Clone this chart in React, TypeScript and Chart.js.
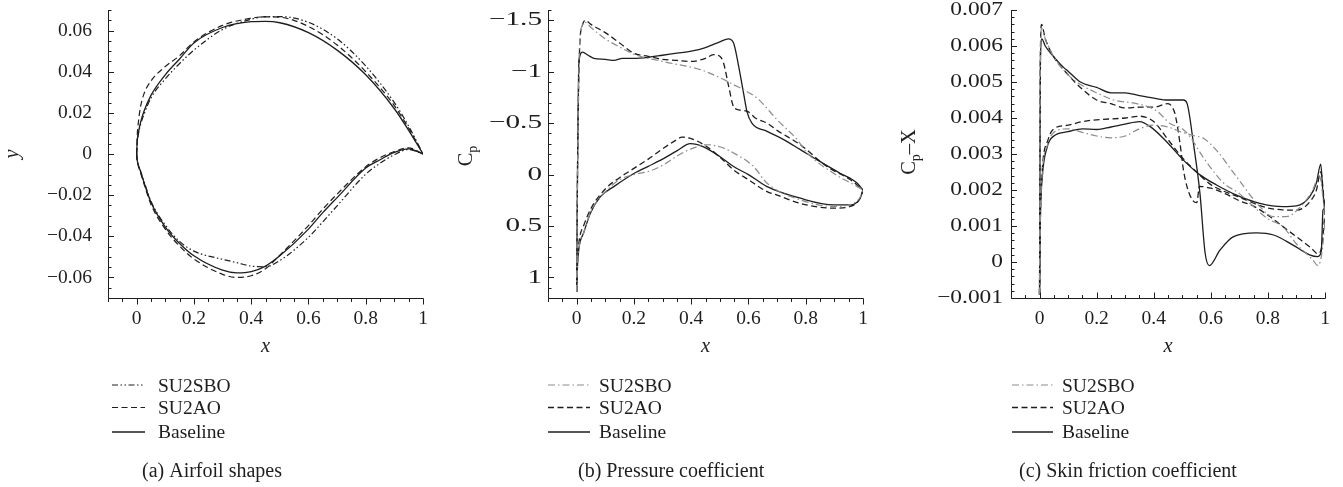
import React, { useEffect, useRef } from "react";
import { Chart, registerables } from "chart.js";

Chart.register(...registerables);

const SERIF = '"Liberation Serif", "Times New Roman", Times, serif';
const INK = "#1e1e1e";
const GRAY = "#8c8c8c";

const seriesLabels = ["SU2SBO", "SU2AO", "Baseline"];
const panelCaptions = ["(a) Airfoil shapes", "(b) Pressure coefficient", "(c) Skin friction coefficient"];

const xTickValues = [0, 0.2, 0.4, 0.6, 0.8, 1];
const shapeTickValues = [-0.06, -0.04, -0.02, 0, 0.02, 0.04, 0.06];
const cpTickValues = [-1.5, -1, -0.5, 0, 0.5, 1];
const cfTickValues = [-0.001, 0, 0.001, 0.002, 0.003, 0.004, 0.005, 0.006, 0.007];

// (a) Airfoil shapes
const shapeUpperX = [0, 0.002, 0.005, 0.013, 0.025, 0.05, 0.1, 0.15, 0.2, 0.3, 0.4, 0.45, 0.5, 0.6, 0.7, 0.8, 0.9, 0.95, 1];
const shapeSboUpper = [0, 0.0055, 0.0088, 0.014, 0.019, 0.0272, 0.0365, 0.044, 0.0505, 0.0605, 0.0655, 0.0668, 0.0668, 0.064, 0.056, 0.0428, 0.025, 0.0135, 0];
const shapeAoUpper = [0, 0.0088, 0.014, 0.0225, 0.029, 0.0355, 0.0425, 0.0478, 0.0545, 0.0625, 0.066, 0.0667, 0.0665, 0.062, 0.053, 0.04, 0.0235, 0.0125, 0];
const shapeBaseUpper = [0, 0.006, 0.0093, 0.015, 0.0205, 0.0285, 0.0385, 0.0462, 0.054, 0.0615, 0.0643, 0.0645, 0.0638, 0.059, 0.0505, 0.0385, 0.022, 0.0115, 0];
const shapeLowerX = [0, 0.002, 0.005, 0.013, 0.025, 0.05, 0.1, 0.15, 0.2, 0.3, 0.35, 0.4, 0.45, 0.5, 0.6, 0.65, 0.7, 0.8, 0.85, 0.9, 0.95, 1];
const shapeSboLower = [0, -0.003, -0.005, -0.008, -0.013, -0.023, -0.0345, -0.0425, -0.0472, -0.0512, -0.0528, -0.0545, -0.0548, -0.0518, -0.0405, -0.033, -0.0252, -0.0098, -0.0045, -0.0003, 0.0022, 0];
const shapeAoLower = [0, -0.0032, -0.0053, -0.0088, -0.0142, -0.0245, -0.0365, -0.0448, -0.051, -0.0585, -0.06, -0.0592, -0.0558, -0.0492, -0.0348, -0.0268, -0.0195, -0.0062, -0.0018, 0.0012, 0.003, 0];
const shapeBaseLower = [0, -0.003, -0.005, -0.0082, -0.0135, -0.0235, -0.0355, -0.0435, -0.0495, -0.0565, -0.0578, -0.0572, -0.0545, -0.0495, -0.0365, -0.0285, -0.0212, -0.0068, -0.0028, 0.0008, 0.0025, 0];

// (b) Pressure coefficient
const cpSboUpperX = [0, 0.003, 0.01, 0.02, 0.03, 0.05, 0.1, 0.15, 0.2, 0.3, 0.432, 0.502, 0.548, 0.583, 0.63, 0.7, 0.77, 0.805, 0.897, 0.98, 1];
const cpSboUpper = [1.14, 0.0, -1.25, -1.45, -1.48, -1.43, -1.32, -1.24, -1.17, -1.1, -1.02, -0.94, -0.874, -0.825, -0.744, -0.533, -0.34, -0.21, -0.013, 0.117, 0.15];
const cpSboLowerX = [0, 0.002, 0.005, 0.01, 0.024, 0.05, 0.1, 0.15, 0.2, 0.25, 0.3, 0.35, 0.4, 0.455, 0.5, 0.548, 0.618, 0.665, 0.781, 0.897, 0.966, 0.99, 1];
const cpSboLower = [1.14, 0.95, 0.8, 0.68, 0.57, 0.36, 0.17, 0.05, 0.0, -0.03, -0.09, -0.18, -0.25, -0.29, -0.27, -0.21, -0.078, 0.084, 0.246, 0.31, 0.28, 0.22, 0.15];
const cpAoUpperX = [0, 0.003, 0.01, 0.02, 0.03, 0.05, 0.1, 0.15, 0.2, 0.25, 0.3, 0.35, 0.4, 0.45, 0.478, 0.5, 0.513, 0.531, 0.548, 0.566, 0.6, 0.624, 0.665, 0.7, 0.781, 0.874, 0.956, 1];
const cpAoUpper = [1.14, 0.0, -1.2, -1.45, -1.5, -1.46, -1.38, -1.28, -1.18, -1.15, -1.12, -1.11, -1.1, -1.13, -1.166, -1.15, -1.085, -0.857, -0.66, -0.63, -0.61, -0.55, -0.5, -0.43, -0.29, -0.078, 0.05, 0.15];
const cpAoLowerX = [0, 0.002, 0.005, 0.01, 0.024, 0.05, 0.1, 0.15, 0.2, 0.25, 0.3, 0.35, 0.368, 0.4, 0.45, 0.5, 0.548, 0.6, 0.665, 0.7, 0.781, 0.897, 0.955, 0.99, 1];
const cpAoLower = [1.14, 0.9, 0.75, 0.62, 0.5, 0.33, 0.14, 0.03, -0.06, -0.15, -0.25, -0.34, -0.364, -0.35, -0.28, -0.17, -0.046, 0.05, 0.166, 0.2, 0.28, 0.327, 0.31, 0.23, 0.15];
const cpBaseUpperX = [0, 0.003, 0.008, 0.02, 0.04, 0.06, 0.1, 0.13, 0.16, 0.2, 0.25, 0.3, 0.35, 0.4, 0.45, 0.5, 0.53, 0.548, 0.566, 0.583, 0.595, 0.612, 0.665, 0.723, 0.78, 0.84, 0.92, 0.98, 1];
const cpBaseUpper = [1.14, 0.0, -1.1, -1.19, -1.16, -1.13, -1.12, -1.11, -1.13, -1.13, -1.14, -1.16, -1.18, -1.2, -1.235, -1.29, -1.32, -1.28, -1.05, -0.79, -0.61, -0.5, -0.42, -0.34, -0.245, -0.143, -0.013, 0.084, 0.15];
const cpBaseLowerX = [0, 0.002, 0.005, 0.01, 0.024, 0.048, 0.083, 0.13, 0.2, 0.25, 0.3, 0.35, 0.397, 0.443, 0.5, 0.548, 0.6, 0.665, 0.781, 0.897, 0.955, 0.99, 1];
const cpBaseLower = [1.14, 0.95, 0.8, 0.68, 0.57, 0.376, 0.214, 0.117, -0.01, -0.08, -0.15, -0.23, -0.3, -0.27, -0.175, -0.078, 0.0, 0.117, 0.23, 0.295, 0.295, 0.23, 0.15];

// (c) Skin friction coefficient
const cfSboUpperX = [0, 0.003, 0.007, 0.02, 0.05, 0.1, 0.15, 0.2, 0.26, 0.34, 0.41, 0.457, 0.5, 0.527, 0.574, 0.644, 0.7, 0.737, 0.8, 0.853, 0.9, 0.922, 0.957, 0.975, 0.99, 1];
const cfSboUpper = [-0.0009, 0.0056, 0.0065, 0.0062, 0.0057, 0.0052, 0.0049, 0.0047, 0.0045, 0.0044, 0.0042, 0.00385, 0.0037, 0.00348, 0.0029, 0.0022, 0.0019, 0.00163, 0.0012, 0.00098, 0.0005, 0.00033, 0.00006, -0.0001, 0.0003, 0.0012];
const cfSboLowerX = [0, 0.003, 0.009, 0.03, 0.05, 0.1, 0.15, 0.2, 0.25, 0.3, 0.35, 0.4, 0.45, 0.5, 0.545, 0.574, 0.62, 0.69, 0.772, 0.818, 0.865, 0.91, 0.957, 0.98, 1];
const cfSboLower = [-0.0009, 0.0012, 0.0024, 0.0033, 0.0036, 0.0037, 0.0036, 0.0035, 0.00345, 0.0035, 0.0037, 0.0038, 0.00375, 0.0036, 0.0035, 0.00344, 0.0031, 0.00237, 0.00154, 0.00126, 0.00126, 0.0015, 0.002, 0.0024, 0.0013];
const cfAoUpperX = [0, 0.003, 0.007, 0.02, 0.05, 0.1, 0.15, 0.2, 0.25, 0.3, 0.35, 0.4, 0.45, 0.465, 0.475, 0.492, 0.504, 0.52, 0.538, 0.551, 0.56, 0.6, 0.65, 0.7, 0.75, 0.8, 0.85, 0.9, 0.95, 0.975, 0.99, 1];
const cfAoUpper = [-0.0009, 0.0058, 0.0066, 0.0062, 0.0057, 0.0052, 0.0048, 0.0045, 0.0044, 0.00428, 0.0043, 0.0043, 0.0044, 0.0043, 0.0041, 0.0033, 0.00256, 0.002, 0.0017, 0.00165, 0.0021, 0.00205, 0.0019, 0.0017, 0.00155, 0.0013, 0.001, 0.0007, 0.0004, 0.00023, 0.0005, 0.0014];
const cfAoLowerX = [0, 0.003, 0.009, 0.03, 0.05, 0.1, 0.15, 0.2, 0.3, 0.35, 0.4, 0.45, 0.5, 0.55, 0.6, 0.7, 0.8, 0.85, 0.9, 0.95, 0.97, 0.985, 1];
const cfAoLower = [-0.0009, 0.0013, 0.0025, 0.0034, 0.0037, 0.0038, 0.0039, 0.00395, 0.004, 0.00405, 0.0039, 0.0034, 0.0029, 0.0025, 0.00215, 0.0018, 0.0015, 0.00145, 0.00144, 0.0017, 0.002, 0.0025, 0.0014];
const cfBaseUpperX = [0, 0.003, 0.008, 0.02, 0.05, 0.085, 0.1, 0.143, 0.2, 0.25, 0.3, 0.35, 0.4, 0.45, 0.504, 0.517, 0.539, 0.562, 0.58, 0.595, 0.632, 0.678, 0.76, 0.82, 0.888, 0.946, 0.975, 0.987, 0.993, 1];
const cfBaseUpper = [-0.0009, 0.0055, 0.0062, 0.006, 0.0057, 0.0054, 0.0053, 0.005, 0.00485, 0.0047, 0.0047, 0.00462, 0.00455, 0.0045, 0.0045, 0.0044, 0.0033, 0.0019, 0.00025, -0.0001, 0.00033, 0.0007, 0.00081, 0.00075, 0.00047, 0.0002, 0.00015, 0.0003, 0.00144, 0.0015];
const cfBaseLowerX = [0, 0.003, 0.009, 0.027, 0.05, 0.1, 0.15, 0.2, 0.25, 0.3, 0.35, 0.388, 0.45, 0.504, 0.562, 0.62, 0.69, 0.772, 0.853, 0.9, 0.946, 0.97, 0.985, 0.993, 1];
const cfBaseLower = [-0.0009, 0.0012, 0.0023, 0.0032, 0.0035, 0.00362, 0.0037, 0.00368, 0.00375, 0.00383, 0.0039, 0.00376, 0.0033, 0.00283, 0.00242, 0.00214, 0.00186, 0.00163, 0.00154, 0.00156, 0.00181, 0.0022, 0.00272, 0.0019, 0.0015];

type Curve = { x: number[]; y: number[] };
type Series = { label: string; color: string; dash: number[]; width: number; curves: Curve[] };
type TitlePart = { t: string; sub?: boolean; italic?: boolean };
type Panel = {
  left: number;
  width: number;
  area: { left: number; right: number; top: number; bottom: number };
  xMin: number; xMax: number; yMin: number; yMax: number; reverse: boolean;
  yTicks: number[]; yMinor: number; xMinor: number; xTickOut: boolean;
  yLabelPad: number; yLabelStretch: number;
  yTitle: TitlePart[]; yTitleBase: number; yTitleCenter: number;
  legend: { x0: number; x1: number; tx: number };
  captionX: number; caption: string;
  series: Series[];
};

const H = 487;
const Y_AXIS_W = 70;
const X_AXIS_H = 40;
const TICK_FONT_SIZE = 19.5;

const fmt = (v: number) => (v < 0 ? "\u2212" + String(-v) : String(v));

const dashDotDot = [6, 2.5, 1.5, 2.5, 1.5, 2.5];
const dashed = [6, 3.5];
const dashDot = [7, 3, 1.5, 3];

const panels: Panel[] = [
  {
    left: 0, width: 440,
    area: { left: 108, right: 423, top: 10, bottom: 298 },
    xMin: -0.1, xMax: 1, yMin: -0.07, yMax: 0.07, reverse: false,
    yTicks: shapeTickValues, yMinor: 0.005, xMinor: 0.05, xTickOut: true,
    yLabelPad: 16, yLabelStretch: 1,
    yTitle: [{ t: "y", italic: true }], yTitleBase: 18, yTitleCenter: 154,
    legend: { x0: 112, x1: 145, tx: 158 },
    captionX: 142, caption: panelCaptions[0],
    series: [
      { label: seriesLabels[0], color: INK, dash: dashDotDot, width: 1.2, curves: [{ x: shapeUpperX, y: shapeSboUpper }, { x: shapeLowerX, y: shapeSboLower }] },
      { label: seriesLabels[1], color: INK, dash: dashed, width: 1.2, curves: [{ x: shapeUpperX, y: shapeAoUpper }, { x: shapeLowerX, y: shapeAoLower }] },
      { label: seriesLabels[2], color: INK, dash: [], width: 1.3, curves: [{ x: shapeUpperX, y: shapeBaseUpper }, { x: shapeLowerX, y: shapeBaseLower }] },
    ],
  },
  {
    left: 440, width: 450,
    area: { left: 108, right: 423, top: 10, bottom: 298 },
    xMin: -0.1, xMax: 1, yMin: -1.6, yMax: 1.2, reverse: true,
    yTicks: cpTickValues, yMinor: 0.1, xMinor: 0.05, xTickOut: true,
    yLabelPad: 6, yLabelStretch: 1.5,
    yTitle: [{ t: "C" }, { t: "p", sub: true }], yTitleBase: 32, yTitleCenter: 156,
    legend: { x0: 108, x1: 150, tx: 159 },
    captionX: 138, caption: panelCaptions[1],
    series: [
      { label: seriesLabels[0], color: GRAY, dash: dashDot, width: 1.2, curves: [{ x: cpSboUpperX, y: cpSboUpper }, { x: cpSboLowerX, y: cpSboLower }] },
      { label: seriesLabels[1], color: INK, dash: dashed, width: 1.3, curves: [{ x: cpAoUpperX, y: cpAoUpper }, { x: cpAoLowerX, y: cpAoLower }] },
      { label: seriesLabels[2], color: INK, dash: [], width: 1.3, curves: [{ x: cpBaseUpperX, y: cpBaseUpper }, { x: cpBaseLowerX, y: cpBaseLower }] },
    ],
  },
  {
    left: 890, width: 453,
    area: { left: 121, right: 435, top: 10, bottom: 298 },
    xMin: -0.1, xMax: 1, yMin: -0.001, yMax: 0.007, reverse: false,
    yTicks: cfTickValues, yMinor: 0.0002, xMinor: 0.05, xTickOut: false,
    yLabelPad: 8, yLabelStretch: 1.2,
    yTitle: [{ t: "C" }, { t: "p", sub: true }, { t: "\u2013X" }], yTitleBase: 25, yTitleCenter: 152,
    legend: { x0: 122, x1: 163, tx: 172 },
    captionX: 129, caption: panelCaptions[2],
    series: [
      { label: seriesLabels[0], color: GRAY, dash: dashDot, width: 1.2, curves: [{ x: cfSboUpperX, y: cfSboUpper }, { x: cfSboLowerX, y: cfSboLower }] },
      { label: seriesLabels[1], color: INK, dash: dashed, width: 1.3, curves: [{ x: cfAoUpperX, y: cfAoUpper }, { x: cfAoLowerX, y: cfAoLower }] },
      { label: seriesLabels[2], color: INK, dash: [], width: 1.3, curves: [{ x: cfBaseUpperX, y: cfBaseUpper }, { x: cfBaseLowerX, y: cfBaseLower }] },
    ],
  },
];

function makeDecor(p: Panel) {
  return {
    id: "decor",
    afterDraw(chart: any) {
      const { ctx, chartArea: ca, scales } = chart;
      const xs = scales.x;
      const ys = scales.y;
      ctx.save();
      ctx.strokeStyle = INK;
      ctx.fillStyle = INK;
      ctx.lineWidth = 1;
      ctx.setLineDash([]);
      const L = Math.round(ca.left) + 0.5;
      const B = Math.round(ca.bottom) + 0.5;
      ctx.beginPath();
      ctx.moveTo(L, ca.top);
      ctx.lineTo(L, B);
      ctx.lineTo(ca.right + 0.5, B);
      ctx.stroke();

      // y ticks (inward)
      const ny = Math.round((p.yMax - p.yMin) / p.yMinor);
      ctx.beginPath();
      for (let i = 0; i <= ny; i++) {
        const v = p.yMin + i * p.yMinor;
        const major = p.yTicks.some((t) => Math.abs(t - v) < p.yMinor * 1e-3);
        const py = Math.round(ys.getPixelForValue(v)) + 0.5;
        const len = major ? 5.5 : 3;
        ctx.moveTo(L, py);
        ctx.lineTo(L + len, py);
      }
      ctx.stroke();

      // y tick labels, taken from the scale's ticks
      ctx.font = `${TICK_FONT_SIZE}px ${SERIF}`;
      ctx.textAlign = "right";
      ctx.textBaseline = "middle";
      ys.ticks.forEach((t: any) => {
        const py = ys.getPixelForValue(t.value);
        ctx.save();
        ctx.translate(ca.left - p.yLabelPad, py);
        ctx.scale(p.yLabelStretch, 1);
        ctx.fillText(fmt(t.value), 0, 0);
        ctx.restore();
      });

      // x ticks
      const nx = Math.round((p.xMax - p.xMin) / p.xMinor);
      const dir = p.xTickOut ? 1 : -1;
      ctx.beginPath();
      for (let i = 0; i <= nx; i++) {
        const v = p.xMin + i * p.xMinor;
        const major = xTickValues.some((t) => Math.abs(t - v) < p.xMinor * 1e-3);
        const px = Math.round(xs.getPixelForValue(v)) + 0.5;
        const len = major ? 6 : 3.5;
        ctx.moveTo(px, B);
        ctx.lineTo(px, B + dir * len);
      }
      ctx.stroke();

      // y title (rotated)
      ctx.save();
      ctx.translate(p.yTitleBase, p.yTitleCenter);
      ctx.rotate(-Math.PI / 2);
      ctx.textBaseline = "alphabetic";
      ctx.textAlign = "left";
      const partFont = (tp: TitlePart) =>
        `${tp.italic ? "italic " : ""}${tp.sub ? 14 : 20.5}px ${SERIF}`;
      let total = 0;
      const widths = p.yTitle.map((tp) => {
        ctx.font = partFont(tp);
        const w = ctx.measureText(tp.t).width;
        total += w;
        return w;
      });
      let cx = -total / 2;
      p.yTitle.forEach((tp, i) => {
        ctx.font = partFont(tp);
        ctx.fillText(tp.t, cx, tp.sub ? 4.5 : 0);
        cx += widths[i];
      });
      ctx.restore();

      // x title
      ctx.font = `italic 20.5px ${SERIF}`;
      ctx.textAlign = "center";
      ctx.textBaseline = "alphabetic";
      ctx.fillText("x", (ca.left + ca.right) / 2, 351.5);

      // legend
      const rowsY = [385, 407.5, 432];
      const baseY = [391.7, 413.6, 438];
      p.series.forEach((s, i) => {
        ctx.strokeStyle = s.color;
        ctx.lineWidth = s.width;
        ctx.setLineDash(s.dash);
        ctx.beginPath();
        ctx.moveTo(p.legend.x0, rowsY[i]);
        ctx.lineTo(p.legend.x1, rowsY[i]);
        ctx.stroke();
        ctx.setLineDash([]);
        ctx.font = `19.5px ${SERIF}`;
        ctx.textAlign = "left";
        ctx.fillStyle = INK;
        ctx.fillText(s.label, p.legend.tx, baseY[i]);
      });

      // caption
      ctx.font = `20px ${SERIF}`;
      ctx.textAlign = "left";
      ctx.fillStyle = INK;
      ctx.fillText(p.caption, p.captionX, 477);
      ctx.restore();
    },
  };
}

function PanelChart({ p }: { p: Panel }) {
  const ref = useRef<HTMLCanvasElement | null>(null);
  useEffect(() => {
    if (!ref.current) return;
    const datasets: any[] = [];
    p.series.forEach((s) => {
      s.curves.forEach((c) => {
        datasets.push({
          label: s.label,
          data: c.x.map((x, i) => ({ x, y: c.y[i] })),
          showLine: true,
          borderColor: s.color,
          borderWidth: s.width,
          borderDash: s.dash,
          pointRadius: 0,
          pointHoverRadius: 0,
          fill: false,
          cubicInterpolationMode: "monotone",
        });
      });
    });
    const tickFont = { family: SERIF, size: TICK_FONT_SIZE };
    const chart = new Chart(ref.current, {
      type: "scatter",
      data: { datasets },
      options: {
        animation: false,
        responsive: false,
        devicePixelRatio: 1,
        events: [],
        layout: {
          padding: {
            left: p.area.left - Y_AXIS_W,
            right: p.width - p.area.right,
            top: p.area.top,
            bottom: H - p.area.bottom - X_AXIS_H,
          },
        },
        plugins: { legend: { display: false }, title: { display: false }, tooltip: { enabled: false } },
        scales: {
          x: {
            type: "linear",
            min: p.xMin,
            max: p.xMax,
            grid: { display: false, drawTicks: false },
            border: { display: false },
            ticks: {
              autoSkip: false,
              maxRotation: 0,
              padding: 9,
              color: INK,
              font: tickFont,
              callback: (v: any) => fmt(Number(v)),
            },
            afterBuildTicks: (s: any) => {
              s.ticks = xTickValues.map((v) => ({ value: v }));
            },
            afterFit: (s: any) => {
              s.height = X_AXIS_H;
              s.paddingLeft = 0;
              s.paddingRight = 0;
            },
          },
          y: {
            type: "linear",
            min: p.yMin,
            max: p.yMax,
            reverse: p.reverse,
            grid: { display: false, drawTicks: false },
            border: { display: false },
            ticks: {
              display: false,
              autoSkip: false,
              padding: p.yLabelPad,
              color: INK,
              font: tickFont,
              callback: (v: any) => fmt(Number(v)),
            },
            afterBuildTicks: (s: any) => {
              s.ticks = p.yTicks.map((v) => ({ value: v }));
            },
            afterFit: (s: any) => {
              s.width = Y_AXIS_W;
              s.paddingTop = 0;
              s.paddingBottom = 0;
            },
          },
        },
      } as any,
      plugins: [makeDecor(p)],
    });
    return () => chart.destroy();
  }, [p]);
  return (
    <canvas
      ref={ref}
      width={p.width}
      height={H}
      style={{ position: "absolute", left: p.left, top: 0, width: p.width, height: H }}
    />
  );
}

export default function App() {
  return (
    <div style={{ position: "absolute", left: 0, top: 0, width: 1343, height: H, background: "#fff", overflow: "hidden" }}>
      {panels.map((p, i) => (
        <PanelChart key={i} p={p} />
      ))}
    </div>
  );
}
